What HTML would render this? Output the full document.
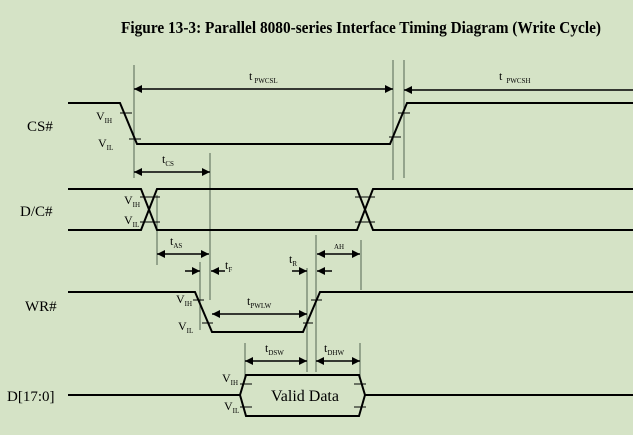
<!DOCTYPE html>
<html><head><meta charset="utf-8"><style>
html,body{margin:0;padding:0;background:#d5e3c6;}
svg{display:block;font-family:"Liberation Serif",serif;}
</style></head><body>
<svg width="633" height="435" viewBox="0 0 633 435" xmlns="http://www.w3.org/2000/svg">
<defs>
<marker id="a" viewBox="0 0 10 10" refX="10" refY="5" markerWidth="11" markerHeight="8" orient="auto-start-reverse" markerUnits="userSpaceOnUse"><path d="M0,0L10,5L0,10z" fill="#000"/></marker>
</defs>
<rect width="633" height="435" fill="#d5e3c6"/>
<text x="121" y="33" font-size="17" font-weight="bold" textLength="480" lengthAdjust="spacingAndGlyphs">Figure 13-3: Parallel 8080-series Interface Timing Diagram (Write Cycle)</text>

<g stroke="#6a7a66" stroke-width="1.2" fill="none">
<line x1="134" y1="65" x2="134" y2="178"/>
<line x1="393" y1="60" x2="393" y2="180"/>
<line x1="404" y1="60" x2="404" y2="178"/>
<line x1="210" y1="153" x2="210" y2="300"/>
<line x1="157" y1="195" x2="157" y2="265"/>
<line x1="316" y1="235" x2="316" y2="372"/>
<line x1="361" y1="240" x2="361" y2="290"/>
<line x1="200" y1="262" x2="200" y2="330"/>
<line x1="307" y1="268" x2="307" y2="372"/>
<line x1="245" y1="343" x2="245" y2="378"/>
<line x1="360" y1="343" x2="360" y2="378"/>
</g>

<g stroke="#000" stroke-width="2" fill="none">
<polyline points="68,103 120,103 137,144 390,144 407,103 633,103"/>
<polyline points="68,189 141,189 157,230 357,230 373,189 633,189"/>
<polyline points="68,230 141,230 157,189 357,189 373,230 633,230"/>
<polyline points="68,292 195,292 212,332 303,332 320,292 633,292"/>
<polyline points="68,395 240,395 246,375 359,375 365,395 633,395"/>
<polyline points="240,395 246,416 359,416 365,395"/>
</g>
<g stroke="#000" stroke-width="1">
<line x1="120" y1="113" x2="132" y2="113"/><line x1="129" y1="139" x2="141" y2="139"/>
<line x1="389" y1="137" x2="401" y2="137"/><line x1="398" y1="113" x2="410" y2="113"/>
<line x1="140" y1="197" x2="160" y2="197"/><line x1="140" y1="222" x2="160" y2="222"/>
<line x1="355" y1="197" x2="375" y2="197"/><line x1="355" y1="222" x2="375" y2="222"/>
<line x1="193" y1="300" x2="204" y2="300"/><line x1="202" y1="323" x2="213" y2="323"/>
<line x1="303" y1="323" x2="313" y2="323"/><line x1="311" y1="300" x2="322" y2="300"/>
<line x1="240" y1="384" x2="252" y2="384"/><line x1="240" y1="407" x2="252" y2="407"/>
<line x1="354" y1="384" x2="366" y2="384"/><line x1="354" y1="407" x2="366" y2="407"/>
</g>

<g stroke="#000" stroke-width="1.5" marker-start="url(#a)" marker-end="url(#a)">
<line x1="134" y1="89" x2="393" y2="89"/>
<line x1="134" y1="172" x2="210" y2="172"/>
<line x1="157" y1="254" x2="209" y2="254"/>
<line x1="317" y1="254" x2="360" y2="254"/>
<line x1="212" y1="314" x2="307" y2="314"/>
<line x1="245" y1="361" x2="307" y2="361"/>
<line x1="316" y1="361" x2="360" y2="361"/>
</g>
<g stroke="#000" stroke-width="1.5">
<line x1="404" y1="90" x2="633" y2="90" marker-start="url(#a)"/>
<line x1="185" y1="271" x2="200" y2="271" marker-end="url(#a)"/>
<line x1="225" y1="271" x2="211" y2="271" marker-end="url(#a)"/>
<line x1="292" y1="271" x2="307" y2="271" marker-end="url(#a)"/>
<line x1="332" y1="271" x2="317" y2="271" marker-end="url(#a)"/>
</g>

<g font-size="15">
<text x="27" y="131">CS#</text>
<text x="20" y="216">D/C#</text>
<text x="25" y="311">WR#</text>
<text x="7" y="401">D[17:0]</text>
<text x="271" y="401" font-size="16">Valid Data</text>
</g>
<g font-size="12">
<text x="96" y="120">V<tspan font-size="7" dy="3">IH</tspan></text>
<text x="98" y="147">V<tspan font-size="7" dy="3">IL</tspan></text>
<text x="124" y="204">V<tspan font-size="7" dy="3">IH</tspan></text>
<text x="124" y="224">V<tspan font-size="7" dy="3">IL</tspan></text>
<text x="176" y="303">V<tspan font-size="7" dy="3">IH</tspan></text>
<text x="178" y="330">V<tspan font-size="7" dy="3">IL</tspan></text>
<text x="222" y="382">V<tspan font-size="7" dy="3">IH</tspan></text>
<text x="224" y="410">V<tspan font-size="7" dy="3">IL</tspan></text>
<text x="249" y="80">t<tspan font-size="7" dx="2" dy="3">PWCSL</tspan></text>
<text x="499" y="80">t<tspan font-size="7" dx="4" dy="3">PWCSH</tspan></text>
<text x="162" y="163">t<tspan font-size="7" dy="3">CS</tspan></text>
<text x="170" y="245">t<tspan font-size="7" dy="3">AS</tspan></text>
<text x="334" y="249" font-size="7">AH</text>
<text x="225" y="269">t<tspan font-size="7" dy="3">F</tspan></text>
<text x="289" y="263">t<tspan font-size="7" dy="3">R</tspan></text>
<text x="247" y="305">t<tspan font-size="7" dy="3">PWLW</tspan></text>
<text x="265" y="352">t<tspan font-size="7" dy="3">DSW</tspan></text>
<text x="324" y="352">t<tspan font-size="7" dy="3">DHW</tspan></text>
</g>
</svg>
</body></html>
